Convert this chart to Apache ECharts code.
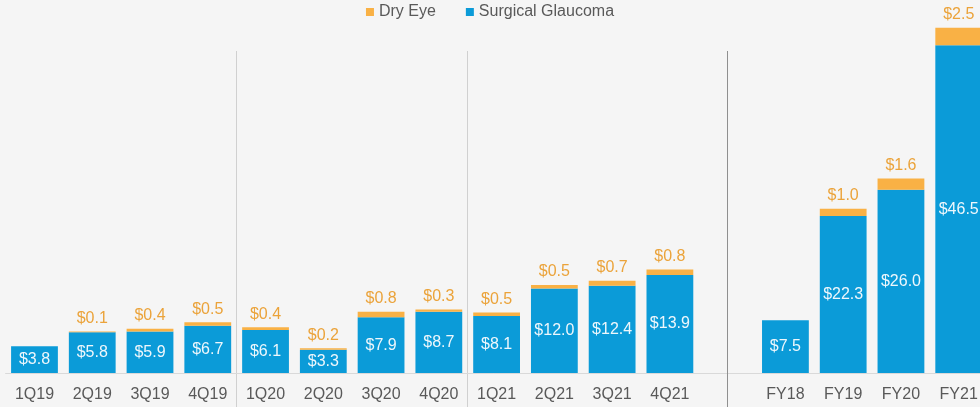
<!DOCTYPE html>
<html>
<head>
<meta charset="utf-8">
<script src="https://cdn.jsdelivr.net/npm/echarts@6/dist/echarts.min.js"></script>
<style>
html,body{margin:0;padding:0;background:#f5f5f5;}
#chart{width:980px;height:407px;}
</style>
</head>
<body>
<div id="chart"></div>
<script>
var categories = ['1Q19','2Q19','3Q19','4Q19','1Q20','2Q20','3Q20','4Q20','1Q21','2Q21','3Q21','4Q21','','FY18','FY19','FY20','FY21'];
var surgicalGlaucoma = [3.8,5.8,5.9,6.7,6.1,3.3,7.9,8.7,8.1,12.0,12.4,13.9,null,7.5,22.3,26.0,46.5];
var dryEye = [null,0.1,0.4,0.5,0.4,0.2,0.8,0.3,0.5,0.5,0.7,0.8,null,null,1.0,1.6,2.5];
var gapCategory = 12;

var yMax = 45.7;
var yMin = -4.82;
var gridTop = 51;
var gridHeight = 407 - gridTop;
var axisOffset = -(-yMin / (yMax - yMin)) * gridHeight;

function fmt(p){ return p.value == null ? '' : '$' + Number(p.value).toFixed(1); }

var chart = echarts.init(document.getElementById('chart'), null, {renderer:'canvas'});
chart.setOption({
  backgroundColor: '#f5f5f5',
  animation: false,
  legend: {
    data: ['Dry Eye','Surgical Glaucoma'],
    left: 'center',
    top: -1,
    icon: 'rect',
    itemWidth: 8,
    itemHeight: 8,
    itemGap: 30,
    textStyle: {fontFamily: 'Liberation Sans', fontSize: 16, color: '#595959'}
  },
  grid: {left: 5.6, width: 982, top: gridTop, bottom: 0, containLabel: false, outerBoundsMode: 'none'},
  xAxis: {
    type: 'category',
    data: categories,
    boundaryGap: true,
    position: 'bottom',
    offset: axisOffset,
    axisLine: {show: true, onZero: false, lineStyle: {color: '#d9d9d9', width: 1}},
    axisTick: {show: false},
    splitLine: {show: true, interval: function(i){ return i === 4 || i === 8; }, lineStyle: {color: '#d0d0d0', width: 1}},
    axisLabel: {interval: 0, margin: 14, fontFamily: 'Liberation Sans', fontSize: 16, color: '#595959'}
  },
  yAxis: {
    type: 'value', min: yMin, max: yMax, show: false, splitLine: {show: false}
  },
  series: [
    {
      name: 'Surgical Glaucoma',
      type: 'bar',
      stack: 'total',
      data: surgicalGlaucoma,
      barCategoryGap: '19%',
      clip: false,
      itemStyle: {color: '#0b9bd8'},
      label: {show: true, position: 'inside', formatter: fmt, fontFamily: 'Liberation Sans', fontSize: 16, color: '#eef7fc'},
      markLine: {
        silent: true,
        symbol: ['none','none'],
        label: {show: false},
        lineStyle: {color: '#8f8f8f', width: 1, type: 'solid'},
        data: [{xAxis: gapCategory}]
      }
    },
    {
      name: 'Dry Eye',
      type: 'bar',
      stack: 'total',
      data: dryEye,
      barCategoryGap: '19%',
      clip: false,
      itemStyle: {color: '#f9b145'},
      label: {show: true, position: 'top', distance: 5, formatter: fmt, fontFamily: 'Liberation Sans', fontSize: 16, color: '#eba33a'}
    }
  ]
});
</script>
</body>
</html>
